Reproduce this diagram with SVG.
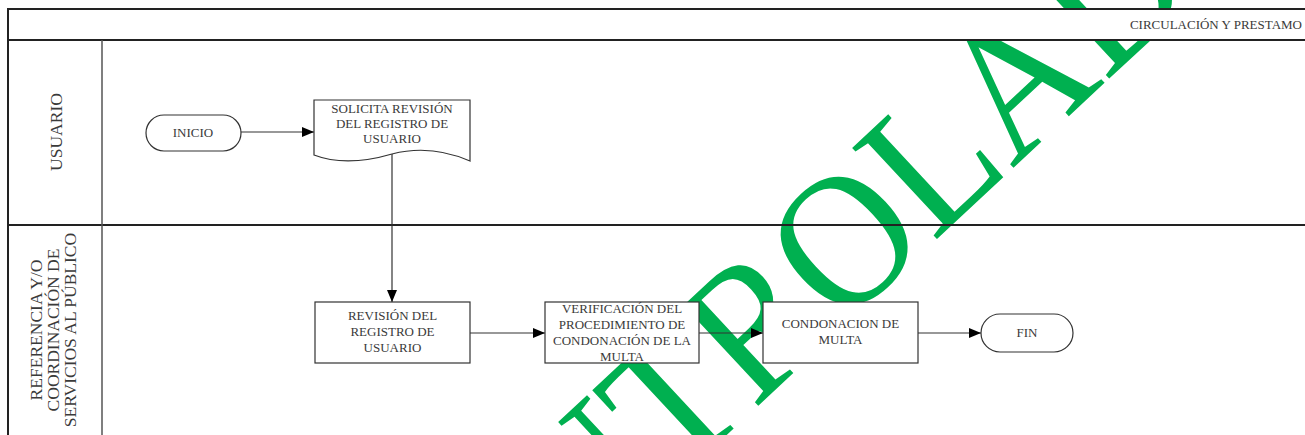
<svg xmlns="http://www.w3.org/2000/svg" width="1305" height="435" viewBox="0 0 1305 435">
<style>
text{font-family:"Liberation Serif","Times New Roman",serif;fill:#3a3a3a}
.n{font-size:13px;text-anchor:middle}
.lane{font-size:17.5px;text-anchor:middle}
.box{fill:#fff;stroke:#333;stroke-width:1.2}
.edge{stroke:#333;stroke-width:1.2;fill:none}
.frame{stroke:#222;stroke-width:2;fill:none}
.wm{font-size:190px;fill:#00B050}
</style>
<defs>
<marker id="ah" markerUnits="userSpaceOnUse" markerWidth="12" markerHeight="10" refX="12" refY="5" orient="auto">
<path d="M0,0 L12,5 L0,10 Z" fill="#000"/>
</marker>
</defs>
<rect width="1305" height="435" fill="#fff"/>
<g id="watermark">
<text class="wm" transform="translate(402,738) rotate(-43) scale(0.93,1)">CONTROLADA</text>
</g>
<g id="lanes">
<rect x="8" y="9" width="1297" height="31" fill="#fff"/>
<line class="frame" x1="8" y1="9" x2="1305" y2="9"/>
<line class="frame" x1="8" y1="40" x2="1305" y2="40"/>
<line class="frame" x1="8" y1="225" x2="1305" y2="225"/>
<line class="frame" x1="8" y1="8" x2="8" y2="435"/>
<line x1="102" y1="40" x2="102" y2="435" stroke="#555" stroke-width="1.5"/>
<text x="1302" y="29" style="font-size:13px;text-anchor:end">CIRCULACIÓN Y PRESTAMO</text>
<text class="lane" transform="translate(61.5,132) rotate(-90)">USUARIO</text>
<text class="lane" transform="rotate(-90)"><tspan x="-330" y="42">REFERENCIA Y/O</tspan><tspan x="-330" y="59">COORDINACIÓN DE</tspan><tspan x="-330" y="76">SERVICIOS AL PÚBLICO</tspan></text>
</g>
<g id="connectors">
<line class="edge" x1="241" y1="132" x2="314" y2="132" marker-end="url(#ah)"/>
<line class="edge" x1="392" y1="154" x2="392" y2="302" marker-end="url(#ah)"/>
<line class="edge" x1="470" y1="333" x2="545" y2="333" marker-end="url(#ah)"/>
<line class="edge" x1="699" y1="333" x2="763" y2="333" marker-end="url(#ah)"/>
<line class="edge" x1="918" y1="333" x2="981" y2="333" marker-end="url(#ah)"/>
</g>
<g id="inicio">
<rect class="box" x="146" y="115" width="95" height="36" rx="18"/>
<text class="n" x="193" y="137">INICIO</text>
</g>
<g id="solicita">
<path class="box" d="M314,100 H470 V161 C440,148 415,148 392,154 C368,161 340,165 314,155 Z"/>
<text class="n"><tspan x="392" y="113">SOLICITA REVISIÓN</tspan><tspan x="392" y="128">DEL REGISTRO DE</tspan><tspan x="392" y="143">USUARIO</tspan></text>
</g>
<g id="revision">
<rect class="box" x="315" y="302" width="155" height="61"/>
<text class="n"><tspan x="392.5" y="320">REVISIÓN DEL</tspan><tspan x="392.5" y="336">REGISTRO DE</tspan><tspan x="392.5" y="352">USUARIO</tspan></text>
</g>
<g id="verificacion">
<rect class="box" x="545" y="302" width="154" height="61"/>
<text class="n"><tspan x="622" y="313">VERIFICACIÓN DEL</tspan><tspan x="622" y="329">PROCEDIMIENTO DE</tspan><tspan x="622" y="345">CONDONACIÓN DE LA</tspan><tspan x="622" y="361">MULTA</tspan></text>
</g>
<g id="condonacion">
<rect class="box" x="763" y="302" width="155" height="61"/>
<text class="n"><tspan x="840.5" y="328">CONDONACION DE</tspan><tspan x="840.5" y="344">MULTA</tspan></text>
</g>
<g id="fin">
<rect class="box" x="981" y="314" width="92" height="38" rx="19"/>
<text class="n" x="1027" y="337">FIN</text>
</g>
</svg>
